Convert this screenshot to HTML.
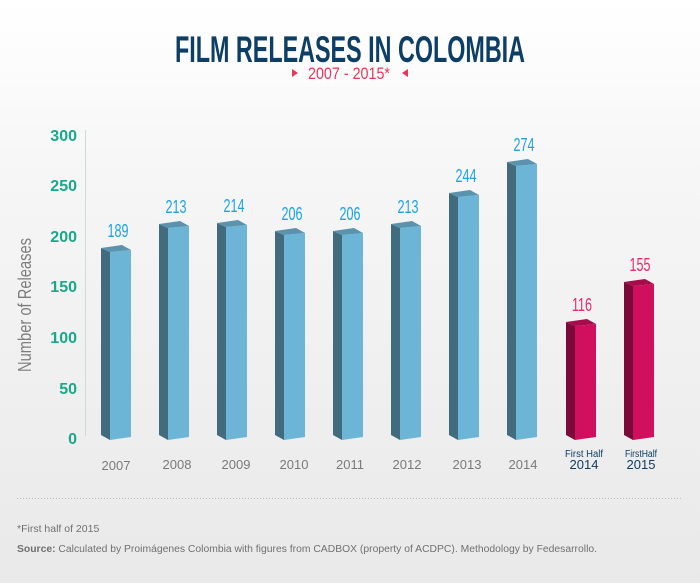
<!DOCTYPE html>
<html><head><meta charset="utf-8"><style>
html,body{margin:0;padding:0;}
body{width:700px;height:583px;overflow:hidden;background:linear-gradient(#ffffff 0%,#f6f6f6 30%,#e9e9e9 100%);font-family:"Liberation Sans",sans-serif;}
</style></head><body>
<svg width="700" height="583" viewBox="0 0 700 583" xmlns="http://www.w3.org/2000/svg" font-family="Liberation Sans, sans-serif">
<text x="350" y="62" text-anchor="middle" font-size="37" font-weight="bold" fill="#0d3e66" textLength="350" lengthAdjust="spacingAndGlyphs">FILM RELEASES IN COLOMBIA</text>
<polygon points="292,69 298,73 292,77" fill="#e8365a"/>
<polygon points="408,69 402,73 408,77" fill="#e8365a"/>
<text x="349" y="79" text-anchor="middle" font-size="17" fill="#e8365a" textLength="82" lengthAdjust="spacingAndGlyphs">2007 - 2015*</text>

<line x1="85.5" y1="130" x2="85.5" y2="436" stroke="#c8dcd8" stroke-width="1"/>
<g font-size="16" font-weight="bold" fill="#19a88a" text-anchor="end">
<text x="77" y="141">300</text><text x="77" y="191">250</text><text x="77" y="242">200</text><text x="77" y="292">150</text><text x="77" y="343">100</text><text x="77" y="394">50</text><text x="77" y="444">0</text>
</g>
<text transform="translate(31,305) rotate(-90)" text-anchor="middle" font-size="18" fill="#7d7d7d" textLength="134" lengthAdjust="spacingAndGlyphs">Number of Releases</text>

<g>
<g transform="translate(101,247)"><polygon points="0,1 9,5 9,193 0,188" fill="#426b7e"/><polygon points="9,5 30,3 30,190 9,193" fill="#6db5d6"/><polygon points="0,1 21,-2 30,3 9,5" fill="#5a93ad"/></g>
<g transform="translate(159,223)"><polygon points="0,1 9,5 9,217 0,212" fill="#426b7e"/><polygon points="9,5 30,3 30,214 9,217" fill="#6db5d6"/><polygon points="0,1 21,-2 30,3 9,5" fill="#5a93ad"/></g>
<g transform="translate(217,222)"><polygon points="0,1 9,5 9,218 0,213" fill="#426b7e"/><polygon points="9,5 30,3 30,215 9,218" fill="#6db5d6"/><polygon points="0,1 21,-2 30,3 9,5" fill="#5a93ad"/></g>
<g transform="translate(275,230)"><polygon points="0,1 9,5 9,210 0,205" fill="#426b7e"/><polygon points="9,5 30,3 30,207 9,210" fill="#6db5d6"/><polygon points="0,1 21,-2 30,3 9,5" fill="#5a93ad"/></g>
<g transform="translate(333,230)"><polygon points="0,1 9,5 9,210 0,205" fill="#426b7e"/><polygon points="9,5 30,3 30,207 9,210" fill="#6db5d6"/><polygon points="0,1 21,-2 30,3 9,5" fill="#5a93ad"/></g>
<g transform="translate(391,223)"><polygon points="0,1 9,5 9,217 0,212" fill="#426b7e"/><polygon points="9,5 30,3 30,214 9,217" fill="#6db5d6"/><polygon points="0,1 21,-2 30,3 9,5" fill="#5a93ad"/></g>
<g transform="translate(449,192)"><polygon points="0,1 9,5 9,248 0,243" fill="#426b7e"/><polygon points="9,5 30,3 30,245 9,248" fill="#6db5d6"/><polygon points="0,1 21,-2 30,3 9,5" fill="#5a93ad"/></g>
<g transform="translate(507,161)"><polygon points="0,1 9,5 9,279 0,274" fill="#426b7e"/><polygon points="9,5 30,3 30,276 9,279" fill="#6db5d6"/><polygon points="0,1 21,-2 30,3 9,5" fill="#5a93ad"/></g>
<g transform="translate(566,321)"><polygon points="0,1 9,5 9,119 0,114" fill="#7a0a3a"/><polygon points="9,5 30,3 30,116 9,119" fill="#d0105e"/><polygon points="0,1 21,-2 30,3 9,5" fill="#a50c4c"/></g>
<g transform="translate(624,281)"><polygon points="0,1 9,5 9,159 0,154" fill="#7a0a3a"/><polygon points="9,5 30,3 30,156 9,159" fill="#d0105e"/><polygon points="0,1 21,-2 30,3 9,5" fill="#a50c4c"/></g>
</g>

<g font-size="18" fill="#1aa3e0" text-anchor="middle">
<text x="118" y="237" textLength="21" lengthAdjust="spacingAndGlyphs">189</text>
<text x="176" y="213" textLength="21" lengthAdjust="spacingAndGlyphs">213</text>
<text x="234" y="212" textLength="21" lengthAdjust="spacingAndGlyphs">214</text>
<text x="292" y="220" textLength="21" lengthAdjust="spacingAndGlyphs">206</text>
<text x="350" y="220" textLength="21" lengthAdjust="spacingAndGlyphs">206</text>
<text x="408" y="213" textLength="21" lengthAdjust="spacingAndGlyphs">213</text>
<text x="466" y="182" textLength="21" lengthAdjust="spacingAndGlyphs">244</text>
<text x="524" y="151" textLength="21" lengthAdjust="spacingAndGlyphs">274</text>
</g>
<g font-size="18" fill="#e8296a" text-anchor="middle">
<text x="582" y="311" textLength="20" lengthAdjust="spacingAndGlyphs">116</text>
<text x="640" y="271" textLength="21" lengthAdjust="spacingAndGlyphs">155</text>
</g>

<g font-size="13" fill="#7a7a7a" text-anchor="middle">
<text x="116" y="470">2007</text><text x="177" y="469">2008</text><text x="236" y="469">2009</text><text x="294" y="469">2010</text><text x="350" y="469">2011</text><text x="407" y="469">2012</text><text x="467" y="469">2013</text><text x="523" y="469">2014</text>
</g>
<g fill="#0d3e66" text-anchor="middle">
<text x="584" y="457" font-size="10" textLength="38" lengthAdjust="spacingAndGlyphs">First Half</text>
<text x="584" y="469" font-size="13">2014</text>
<text x="641" y="457" font-size="10" textLength="32" lengthAdjust="spacingAndGlyphs">FirstHalf</text>
<text x="641" y="469" font-size="13">2015</text>
</g>

<line x1="17" y1="498.5" x2="683" y2="498.5" stroke="#b8b8b8" stroke-width="1" stroke-dasharray="1,2"/>
<text x="17" y="532" font-size="10.5" fill="#707070">*First half of 2015</text>
<text x="17" y="552" font-size="10" fill="#707070" textLength="580" lengthAdjust="spacingAndGlyphs"><tspan font-weight="bold">Source:</tspan> Calculated by Proimágenes Colombia with figures from CADBOX (property of ACDPC). Methodology by Fedesarrollo.</text>
</svg>
</body></html>
